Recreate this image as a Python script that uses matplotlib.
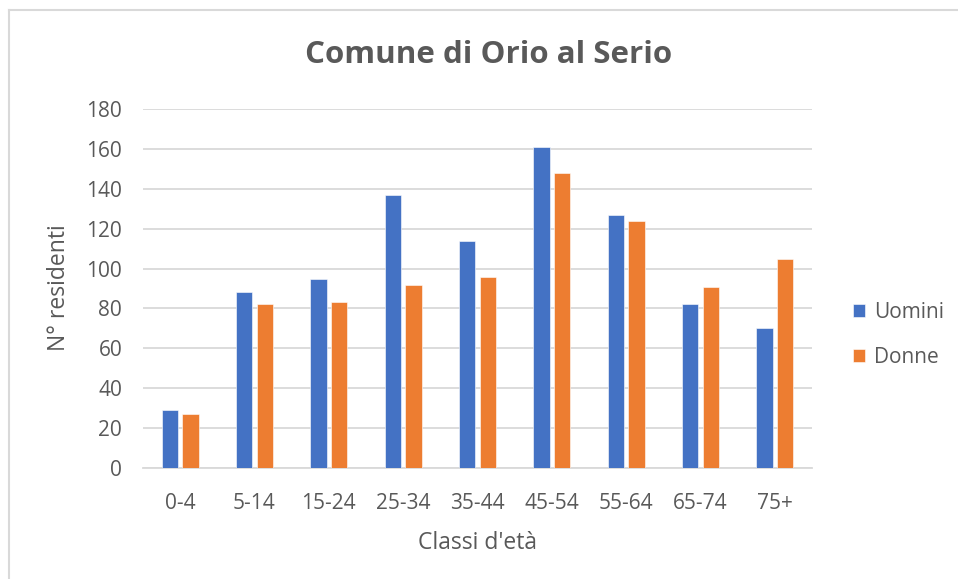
import numpy as np
import matplotlib
matplotlib.use('Agg')
import matplotlib.pyplot as plt
from matplotlib.lines import Line2D

plt.rcParams['font.family'] = ['Open Sans', 'DejaVu Sans']

# data
classi = ['0-4', '5-14', '15-24', '25-34', '35-44', '45-54', '55-64', '65-74', '75+']
uomini = [29, 88, 95, 137, 114, 161, 127, 82, 70]
donne = [27, 82, 83, 92, 96, 148, 124, 91, 105]

BLUE = '#4472C4'
ORANGE = '#ED7D31'
GRID = '#D9D9D9'
TXT = '#595959'

fig = plt.figure(figsize=(9.58, 5.79), dpi=100)
ax = fig.add_axes([143 / 958, 1 - 468 / 579, (812 - 143) / 958, (468 - 109) / 579])

x = np.arange(len(classi))
w = 0.22
off = 0.137
ax.bar(x - off, uomini, w, color=BLUE, edgecolor='white', linewidth=0.4, label='Uomini', zorder=3)
ax.bar(x + off, donne, w, color=ORANGE, edgecolor='white', linewidth=0.4, label='Donne', zorder=3)

ax.set_xlim(-0.5, len(classi) - 0.5)
ax.set_ylim(0, 180)
ax.set_yticks(range(0, 181, 20))
ax.set_xticks(x)
ax.set_xticklabels(classi)
ax.yaxis.grid(True, color=GRID, lw=1.3, zorder=0)
ax.set_axisbelow(True)
for s in ['top', 'right', 'left']:
    ax.spines[s].set_visible(False)
ax.spines['bottom'].set_color(GRID)
ax.spines['bottom'].set_linewidth(1.3)
ax.tick_params(axis='both', length=0, labelsize=15, colors=TXT)
ax.tick_params(axis='y', pad=15)
ax.tick_params(axis='x', pad=18)

fig.text(489 / 958, 1 - 55 / 579, 'Comune di Orio al Serio', ha='center', va='center',
         fontsize=22.5, fontweight='bold', color=TXT)
fig.text(477 / 958, 1 - 543 / 579, "Classi d'età", ha='center', va='center',
         fontsize=16.5, color=TXT)
fig.text(59 / 958, 1 - 288 / 579, 'N° residenti', ha='center', va='center',
         rotation=90, fontsize=16.5, color=TXT)

leg = ax.legend(loc='center left', bbox_to_anchor=(1.033, 0.37), frameon=False,
                fontsize=15, handlelength=0.6, handleheight=0.6,
                handletextpad=0.4, labelspacing=1.15)
for t in leg.get_texts():
    t.set_color(TXT)

# light frame of the chart area
fig.add_artist(Line2D([9 / 958, 9 / 958], [0, 1 - 10 / 579], color=GRID, lw=1.5))
fig.add_artist(Line2D([9 / 958, 1], [1 - 10 / 579, 1 - 10 / 579], color=GRID, lw=1.5))

fig.savefig('out.png', dpi=100, facecolor='white')
